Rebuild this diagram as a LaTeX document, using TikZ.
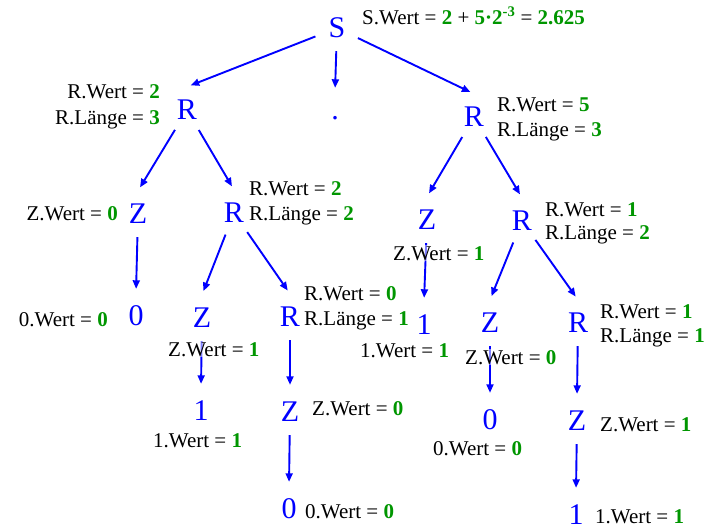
\documentclass[tikz,border=0pt]{standalone}
\usepackage{fontspec}
\setmainfont{Liberation Serif}
\usetikzlibrary{arrows.meta}

\definecolor{vert}{RGB}{0,150,0}
\newcommand{\val}[1]{\textcolor{vert}{\textbf{#1}}}

\tikzset{sym/.style = {circle, minimum size=46pt, inner sep=0pt, text=blue,
                       font=\fontsize{30}{36}\selectfont, text height=19.9pt, text depth=0pt},
         attr/.style = {inner sep=1pt, fill=white, fill opacity=0.5, text opacity=1,
                        font=\fontsize{21}{25}\selectfont},
         fl/.style = {draw=blue, line width=1.9pt, -{Triangle[length=8.5pt,width=7pt]}, shorten >=4pt}
        }

\begin{document}
\begin{tikzpicture}[x=1pt,y=-1pt]
\useasboundingbox (0,0) rectangle (710,528);
% symboles de l'arbre
\node[sym] at (337,28) (s) {S};
\node[sym] at (187,110) (g) {R};
\node[sym, minimum size=36pt] at (335,110) (m) {.};
\node[sym] at (474,117) (d) {R};
\node[sym] at (138,214) (gg) {Z};
\node[sym] at (234,213) (gd) {R};
\node[sym] at (136,316) (ggg) {0};
\node[sym] at (202,318) (gdg) {Z};
\node[sym] at (290,317) (gdd) {R};
\node[sym] at (201,411) (gdgg) {1};
\node[sym] at (290,412) (gddg) {Z};
\node[sym] at (289,509) (gddgg) {0};
\node[sym] at (427,220) (dg) {Z};
\node[sym] at (522,221) (dd) {R};
\node[sym] at (424,325) (dgg) {1};
\node[sym] at (490,323) (ddg) {Z};
\node[sym] at (578,323) (ddd) {R};
\node[sym] at (490,420) (ddgg) {0};
\node[sym] at (577,421) (dddg) {Z};
\node[sym] at (576,515) (dddgg) {1};
% fleches
\draw[fl] (s) -- (g.north);
\draw[fl] (s) -- (m.north);
\draw[fl] (s) -- (d.north);
\draw[fl] (g) -- (gg.north);
\draw[fl] (g) -- (gd.north);
\draw[fl] (gg) -- (ggg.north);
\draw[fl] (gd) -- (gdg.north);
\draw[fl] (gd) -- (gdd.north);
\draw[fl] (gdg) -- (gdgg.north);
\draw[fl] (gdd) -- (gddg.north);
\draw[fl] (gddg) -- (gddgg.north);
\draw[fl] (d) -- (dg.north);
\draw[fl] (d) -- (dd.north);
\draw[fl] (dg) -- (dgg.north);
\draw[fl] (dd) -- (ddg.north);
\draw[fl] (dd) -- (ddd.north);
\draw[fl] (ddg) -- (ddgg.north);
\draw[fl] (ddd) -- (dddg.north);
\draw[fl] (dddg) -- (dddgg.north);
% attributs
\node[attr, anchor=base west] at (361,24) (sw) {S.Wert = \val{2} + \val{5·2\textsuperscript{-3}} = \val{2.625}};
\node[attr, anchor=base east] at (161,98) (gw) {R.Wert = \val{2}};
\node[attr, anchor=base east] at (161,124) (gl) {R.Länge = \val{3}};
\node[attr, anchor=base west] at (496,111) (dw) {R.Wert = \val{5}};
\node[attr, anchor=base west] at (496,136) (dl) {R.Länge = \val{3}};
\node[attr, anchor=base east] at (119,220) (ggw) {Z.Wert = \val{0}};
\node[attr, anchor=base west] at (248,195) (gdw) {R.Wert = \val{2}};
\node[attr, anchor=base west] at (248,220) (gdl) {R.Länge = \val{2}};
\node[attr, anchor=base east] at (109,326) (gggw) {0.Wert = \val{0}};
\node[attr, anchor=base west] at (167,356) (gdgw) {Z.Wert = \val{1}};
\node[attr, anchor=base west] at (152,447) (gdggw) {1.Wert = \val{1}};
\node[attr, anchor=base west] at (303,300) (gddw) {R.Wert = \val{0}};
\node[attr, anchor=base west] at (303,325) (gddl) {R.Länge = \val{1}};
\node[attr, anchor=base west] at (311,415) (gddgw) {Z.Wert = \val{0}};
\node[attr, anchor=base west] at (304,518) (gddggw) {0.Wert = \val{0}};
\node[attr, anchor=base west] at (392,260) (dgw) {Z.Wert = \val{1}};
\node[attr, anchor=base west] at (359,357) (dggw) {1.Wert = \val{1}};
\node[attr, anchor=base west] at (544,216) (ddw) {R.Wert = \val{1}};
\node[attr, anchor=base west] at (544,239) (ddl) {R.Länge = \val{2}};
\node[attr, anchor=base west] at (464,364) (ddgw) {Z.Wert = \val{0}};
\node[attr, anchor=base west] at (432,455) (ddggw) {0.Wert = \val{0}};
\node[attr, anchor=base west] at (599,318) (dddw) {R.Wert = \val{1}};
\node[attr, anchor=base west] at (599,342) (dddl) {R.Länge = \val{1}};
\node[attr, anchor=base west] at (599,431) (dddgw) {Z.Wert = \val{1}};
\node[attr, anchor=base west] at (594,523) (dddggw) {1.Wert = \val{1}};
\end{tikzpicture}
\end{document}
